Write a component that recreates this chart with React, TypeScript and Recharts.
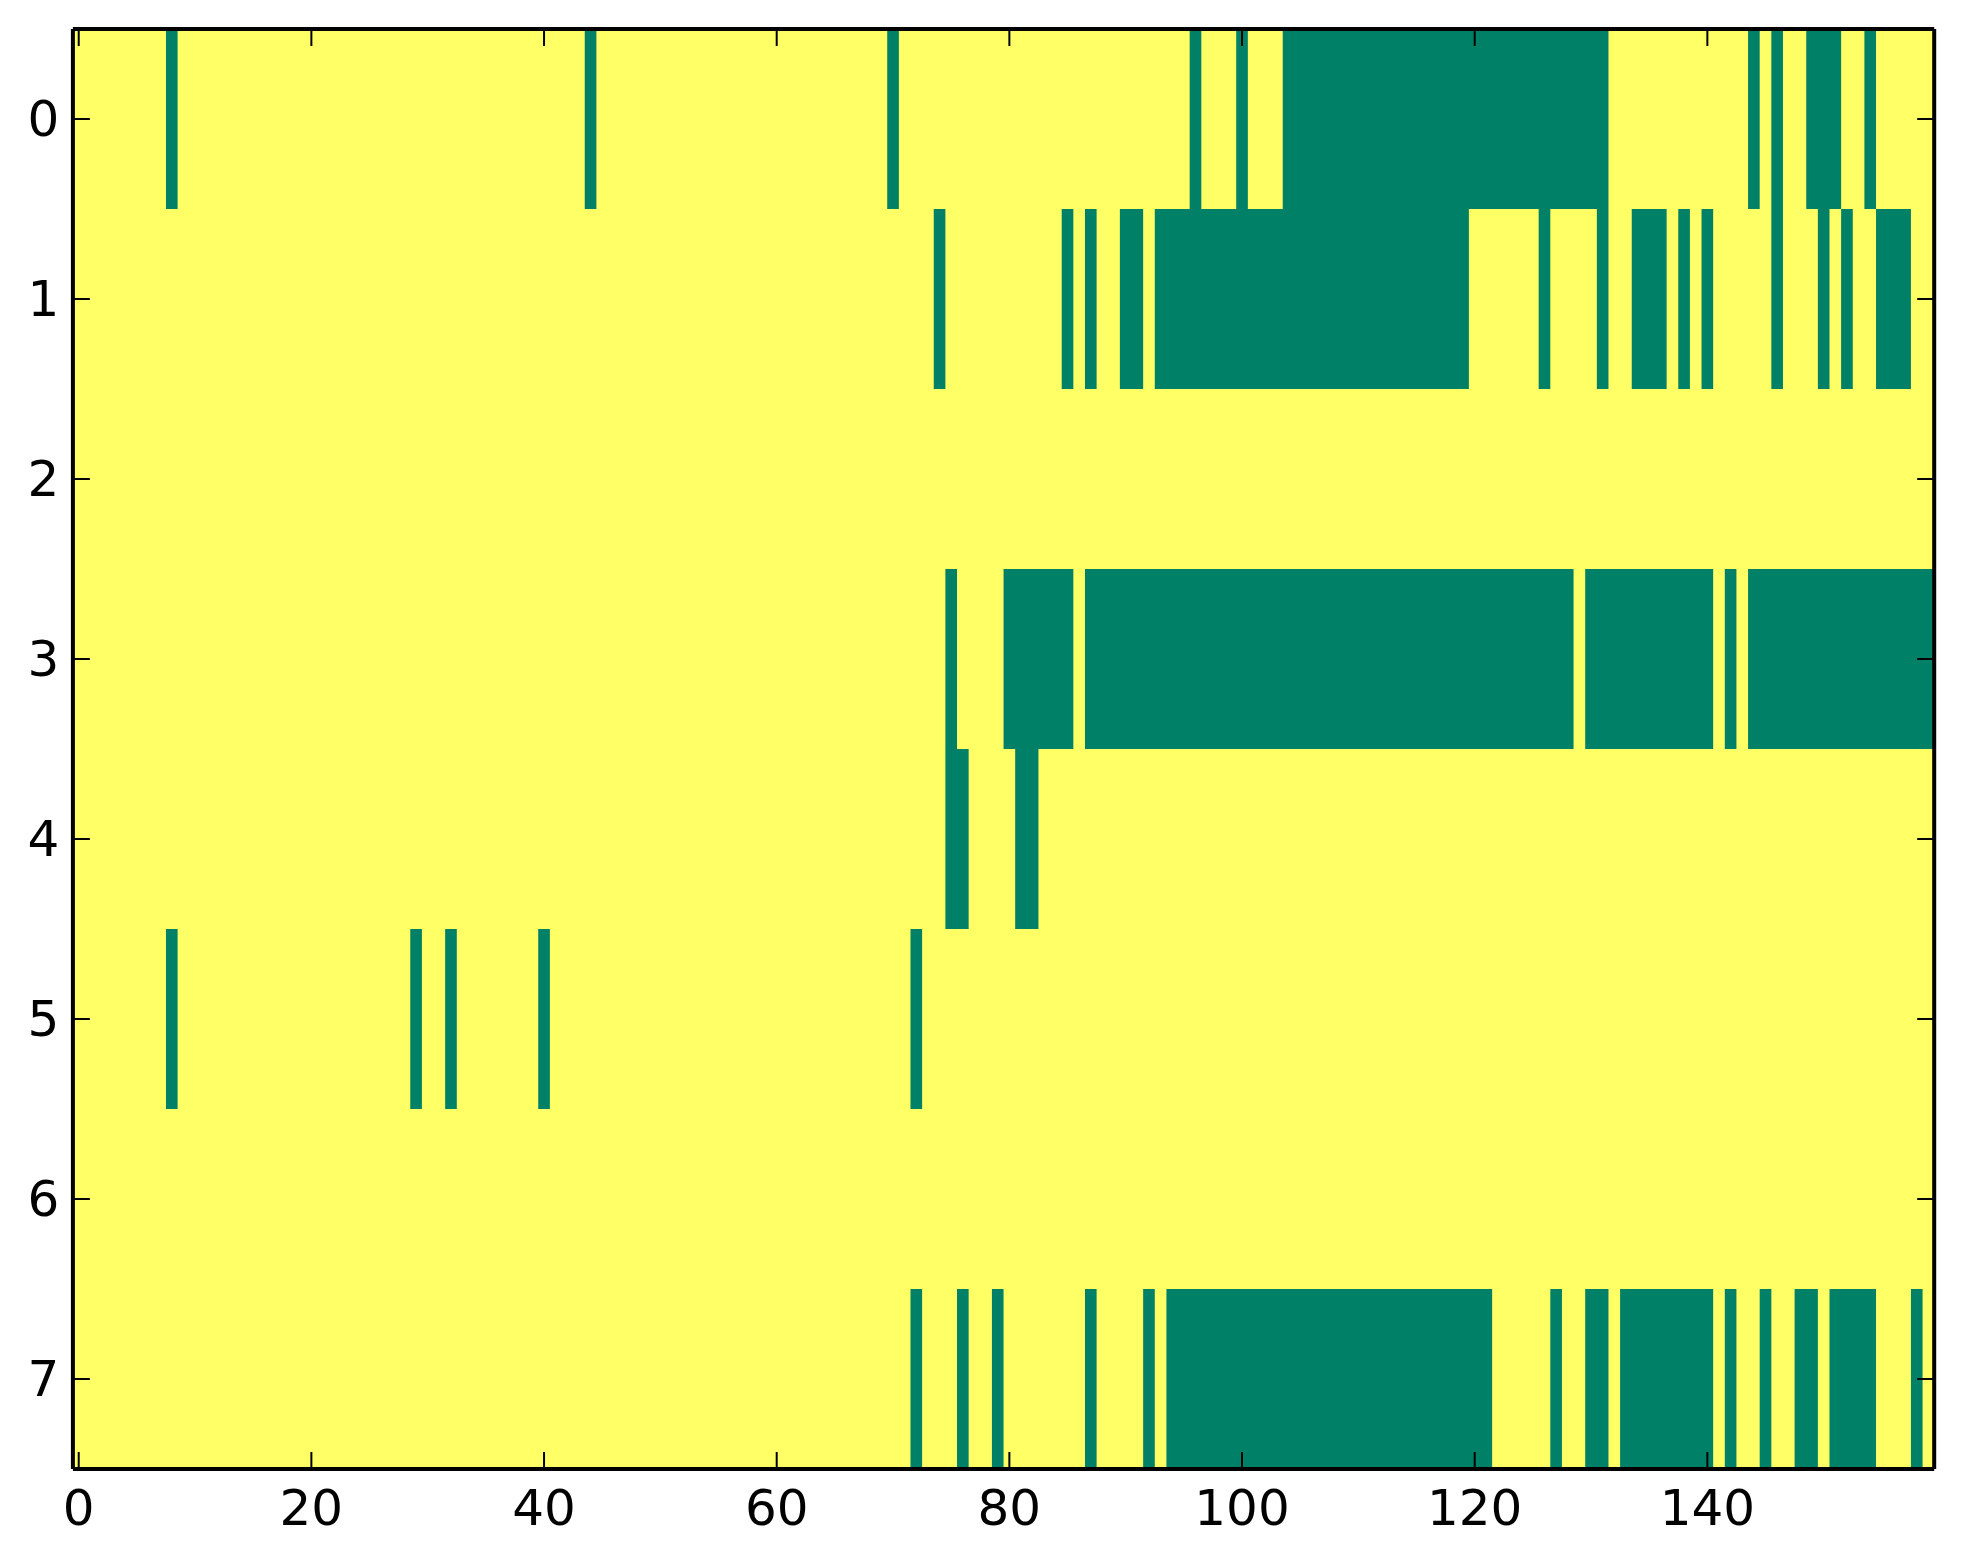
import React from "react";
import { ComposedChart, XAxis, YAxis, ReferenceArea } from "recharts";

// Heatmap of a 8 x 160 binary matrix (0 = green, 1 = yellow).
// Each row lists runs of green cells as [firstColumn, lastColumn].
const row0Green: [number, number][] = [[8, 8], [44, 44], [70, 70], [96, 96], [100, 100], [104, 131], [144, 144], [146, 146], [149, 151], [154, 154]];
const row1Green: [number, number][] = [[74, 74], [85, 85], [87, 87], [90, 91], [93, 119], [126, 126], [131, 131], [134, 136], [138, 138], [140, 140], [146, 146], [150, 150], [152, 152], [155, 157]];
const row2Green: [number, number][] = [];
const row3Green: [number, number][] = [[75, 75], [80, 85], [87, 128], [130, 140], [142, 142], [144, 159]];
const row4Green: [number, number][] = [[75, 76], [81, 82]];
const row5Green: [number, number][] = [[8, 8], [29, 29], [32, 32], [40, 40], [72, 72]];
const row6Green: [number, number][] = [];
const row7Green: [number, number][] = [[72, 72], [76, 76], [79, 79], [87, 87], [92, 92], [94, 121], [127, 127], [130, 131], [133, 140], [142, 142], [145, 145], [148, 149], [151, 154], [158, 158]];

const rowsGreen = [row0Green, row1Green, row2Green, row3Green, row4Green, row5Green, row6Green, row7Green];
const nCols = 160;
const nRows = 8;
const xTicks = [0, 20, 40, 60, 80, 100, 120, 140];
const yTicks = [0, 1, 2, 3, 4, 5, 6, 7];

const GREEN = "#008066";
const YELLOW = "#ffff66";
const FONT = "DejaVu Sans";
const TICK_LEN = 17;
const TICK_W = 2;

const BottomTick = (props: any) => {
  const { x, y, payload } = props;
  return (
    <g>
      <line x1={x} y1={y} x2={x} y2={y - TICK_LEN} stroke="#000" strokeWidth={TICK_W} />
      <text x={x} y={y + 56} textAnchor="middle" fontFamily={FONT} fontSize={50} fill="#000">
        {payload.value}
      </text>
    </g>
  );
};
const TopTick = (props: any) => {
  const { x, y } = props;
  return <line x1={x} y1={y} x2={x} y2={y + TICK_LEN} stroke="#000" strokeWidth={TICK_W} />;
};
const LeftTick = (props: any) => {
  const { x, y, payload } = props;
  return (
    <g>
      <line x1={x} y1={y} x2={x + TICK_LEN} y2={y} stroke="#000" strokeWidth={TICK_W} />
      <text x={x - 13.7} y={y + 17} textAnchor="end" fontFamily={FONT} fontSize={50} fill="#000">
        {payload.value}
      </text>
    </g>
  );
};
const RightTick = (props: any) => {
  const { x, y } = props;
  return <line x1={x} y1={y} x2={x - TICK_LEN} y2={y} stroke="#000" strokeWidth={TICK_W} />;
};

const rowData = yTicks.map((r) => ({ row: r, col: 0 }));

export default function App() {
  const axisLine = { stroke: "#000", strokeWidth: 4 };
  return (
    <div style={{ position: "absolute", left: 0, top: 0, background: "#fff" }}>
      <ComposedChart width={1963} height={1564} data={rowData} margin={{ top: 0, right: 0, bottom: 0, left: 0 }}>
        <XAxis xAxisId="b" type="number" dataKey="col" domain={[-0.5, nCols - 0.5]} ticks={xTicks} orientation="bottom" height={95} tickSize={0} tickMargin={0} tick={<BottomTick />} axisLine={axisLine} allowDataOverflow interval={0} />
        <XAxis xAxisId="t" type="number" dataKey="col" domain={[-0.5, nCols - 0.5]} ticks={xTicks} orientation="top" height={29} tickSize={0} tickMargin={0} tick={<TopTick />} axisLine={axisLine} allowDataOverflow interval={0} />
        <YAxis yAxisId="l" type="number" dataKey="row" domain={[-0.5, nRows - 0.5]} ticks={yTicks} reversed orientation="left" width={72.9} tickSize={0} tickMargin={0} tick={<LeftTick />} axisLine={axisLine} allowDataOverflow interval={0} />
        <YAxis yAxisId="r" type="number" dataKey="row" domain={[-0.5, nRows - 0.5]} ticks={yTicks} reversed orientation="right" width={28.8} tickSize={0} tickMargin={0} tick={<RightTick />} axisLine={axisLine} allowDataOverflow interval={0} />
        <ReferenceArea xAxisId="b" yAxisId="l" x1={-0.5} x2={nCols - 0.5} y1={-0.5} y2={nRows - 0.5} fill={YELLOW} fillOpacity={1} stroke="none" ifOverflow="visible" />
        {rowsGreen.flatMap((runs, r) =>
          runs.map(([a, b], i) => (
            <ReferenceArea
              key={`g-${r}-${i}`}
              xAxisId="b"
              yAxisId="l"
              x1={a - 0.5}
              x2={b + 0.5}
              y1={r - 0.5}
              y2={r + 0.5}
              fill={GREEN}
              fillOpacity={1}
              stroke="none"
              ifOverflow="visible"
            />
          ))
        )}
      </ComposedChart>
    </div>
  );
}
